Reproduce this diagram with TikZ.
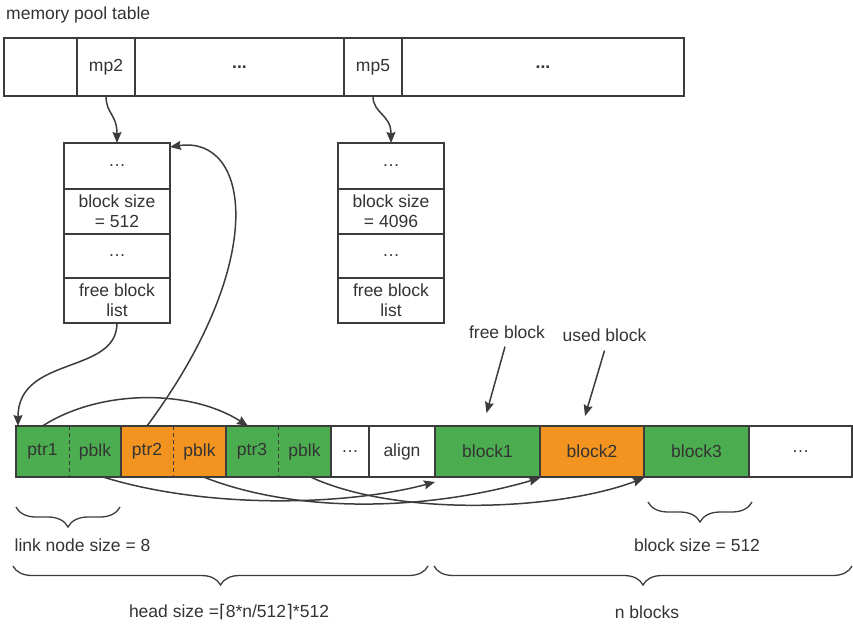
\documentclass[tikz,border=0pt]{standalone}
\usepackage{fontspec}
\setmainfont{Liberation Sans}
\newfontfamily\djv{DejaVu Sans}
\usetikzlibrary{arrows.meta,decorations.pathreplacing}
\definecolor{grn}{RGB}{76,173,80}
\definecolor{org}{RGB}{243,148,32}
\definecolor{ln}{RGB}{60,60,60}
\definecolor{txt}{RGB}{51,51,51}
\tikzset{
  every node/.style={font=\fontsize{17.5}{20}\selectfont, text=txt},
  cellbox/.style={draw=ln, line width=1.6pt, inner sep=0pt, outer sep=0pt, align=center},
  halfbox/.style={inner sep=0pt, outer sep=0pt, minimum height=51pt},
  arr/.style={draw=ln, line width=1.5pt, -{Stealth[length=11pt,width=9pt,inset=1.5pt]}},
  curlyb/.style={draw=ln, line width=1.3pt, decorate, decoration={brace, mirror, amplitude=#1}},
  lbl/.style={inner sep=0pt}
}
\begin{document}
\begin{tikzpicture}[x=1pt,y=-1pt]
\useasboundingbox (0,0) rectangle (853,624);

% title
\node[lbl, anchor=base west] (title) at (6,19) {memory pool table};

% memory pool table
\node[cellbox, minimum width=73pt, minimum height=58pt] (t0) at (40.5,67) {};
\node[cellbox, minimum width=58pt, minimum height=58pt] (t1) at (106,67) {mp2};
\node[cellbox, minimum width=209pt, minimum height=58pt] (t2) at (239.5,67) {\bfseries ...};
\node[cellbox, minimum width=58pt, minimum height=58pt] (t3) at (373,67) {mp5};
\node[cellbox, minimum width=282pt, minimum height=58pt] (t4) at (543,67) {\bfseries ...};

% left stack
\node[cellbox, minimum width=106pt, minimum height=46pt] (s1) at (117,166) {…};
\node[cellbox, minimum width=106pt, minimum height=45pt] (s2) at (117,211.5) {block size\\ = 512};
\node[cellbox, minimum width=106pt, minimum height=44pt] (s3) at (117,256) {…};
\node[cellbox, minimum width=106pt, minimum height=45pt] (s4) at (117,300.5) {free block\\ list};

% right stack
\node[cellbox, minimum width=106pt, minimum height=46pt] (r1) at (391,166) {…};
\node[cellbox, minimum width=106pt, minimum height=45pt] (r2) at (391,211.5) {block size\\ = 4096};
\node[cellbox, minimum width=106pt, minimum height=44pt] (r3) at (391,256) {…};
\node[cellbox, minimum width=106pt, minimum height=45pt] (r4) at (391,300.5) {free block\\ list};

% bottom row: link nodes
\node[halfbox, fill=grn, minimum width=53pt] (p1) at (42.5,451.5) {ptr1};
\node[halfbox, fill=grn, minimum width=52pt] (b1) at (95,451.5) {pblk};
\node[halfbox, fill=org, minimum width=52pt] (p2) at (147,451.5) {ptr2};
\node[halfbox, fill=org, minimum width=53pt] (b2) at (199.5,451.5) {pblk};
\node[halfbox, fill=grn, minimum width=52pt] (p3) at (252,451.5) {ptr3};
\node[halfbox, fill=grn, minimum width=53pt] (b3) at (304.5,451.5) {pblk};
\foreach \a/\b in {p1/b1,p2/b2,p3/b3}{
  \draw[draw=ln, line width=1.6pt] (\a.north west) rectangle (\b.south east);
  \draw[draw=ln, line width=1pt, dash pattern=on 4pt off 3pt] (\a.north east) -- (\a.south east);
}
\node[cellbox, minimum width=38pt, minimum height=51pt] (dd) at (350,451.5) {…};
\node[cellbox, minimum width=66pt, minimum height=51pt] (al) at (402,451.5) {align};
\node[cellbox, fill=grn, minimum width=105pt, minimum height=51pt] (k1) at (487.5,451.5) {block1};
\node[cellbox, fill=org, minimum width=104pt, minimum height=51pt] (k2) at (592,451.5) {block2};
\node[cellbox, fill=grn, minimum width=105pt, minimum height=51pt] (k3) at (696.5,451.5) {block3};
\node[cellbox, minimum width=103pt, minimum height=51pt] (k4) at (800.5,451.5) {…};

% labels above blocks
\node[lbl] (fb) at (507,332) {free block};
\node[lbl] (ub) at (604.5,335) {used block};
\draw[arr] ([xshift=-2pt,yshift=-8pt]fb.south) -- ([xshift=-1pt,yshift=13pt]k1.north);
\draw[arr] ([xshift=0pt,yshift=-9pt]ub.south) -- ([xshift=-7pt,yshift=10pt]k2.north);

% table to stacks
\draw[arr] (t1.south) .. controls (106,114) and (117,114) .. (s1.north);
\draw[arr] (t3.south) .. controls (373,114) and (391,114) .. (r1.north);

% free block list to ptr1
\draw[arr] (s4.south) .. controls (117,375) and (18,355) .. ([xshift=2pt]p1.north west);

% ptr2 back to stack
\draw[arr] (p2.north) .. controls (270,260) and (250,135) .. ([yshift=-4pt]s1.north east);

% ptr1 to ptr3
\draw[arr] (p1.north) .. controls (100,389) and (190,389) .. ([xshift=-4pt]p3.north);

% pblk to blocks
\draw[arr] ([xshift=8pt]b1.south) .. controls (210,510) and (350,505) .. ([yshift=-5pt]k1.south west);
\draw[arr] ([xshift=4pt]b2.south) .. controls (300,515) and (430,510) .. ([yshift=-1pt]k2.south west);
\draw[arr] ([xshift=6pt]b3.south) .. controls (400,518) and (560,510) .. ([yshift=-1pt]k3.south west);

% braces
\draw[curlyb=20pt] (16,507) -- (120,507);
\node[lbl] (lns) at (82.5,545) {link node size = 8};
\draw[curlyb=20pt] (648,502) -- (752,502);
\node[lbl] (bs) at (697,545) {block size = 512};
\draw[curlyb=19pt] (13,566) -- (428,566);
\node[lbl] (hs) at (229,612) {head size =\djv ⌈\rmfamily 8*n/512\djv ⌉\rmfamily *512};
\draw[curlyb=19pt] (434,566) -- (852,566);
\node[lbl] (nb) at (647,612) {n blocks};
\end{tikzpicture}
\end{document}
